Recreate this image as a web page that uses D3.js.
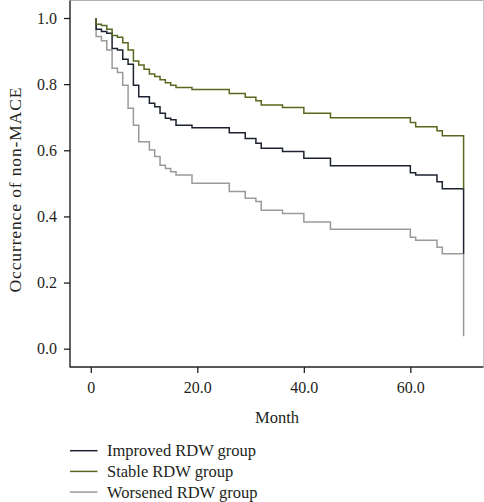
<!DOCTYPE html>
<html><head><meta charset="utf-8">
<script src="https://cdn.jsdelivr.net/npm/d3@7"></script>
<style>
html,body{margin:0;padding:0;background:#fff;}
svg{display:block;}
text{font-family:"Liberation Serif","Times New Roman",serif;fill:#231f20;}
</style></head>
<body>
<svg id="c" width="484" height="502"></svg>
<script>
// ---- data ----
const groups = ["Improved RDW group", "Stable RDW group", "Worsened RDW group"];
const colors = ["#1c2230", "#57691f", "#9a9a9a"];

const improvedTime  = [1, 1, 2, 3, 4, 5, 6, 7, 8, 9, 11, 12, 13, 14, 15, 16, 19, 26, 29, 31, 32, 36, 40, 45, 60, 61, 65, 66, 70];
const improvedValue = [1.0, 0.966, 0.959, 0.954, 0.908, 0.903, 0.875, 0.86, 0.797, 0.762, 0.742, 0.732, 0.712, 0.697, 0.692, 0.676, 0.668, 0.653, 0.636, 0.621, 0.606, 0.596, 0.576, 0.553, 0.532, 0.525, 0.505, 0.484, 0.287];

const stableTime  = [1, 1, 2, 3, 4, 5, 6, 7, 8, 9, 10, 11, 12, 13, 14, 15, 16, 19, 26, 29, 31, 32, 36, 40, 45, 60, 61, 65, 66, 70];
const stableValue = [1.0, 0.981, 0.977, 0.966, 0.947, 0.942, 0.925, 0.903, 0.870, 0.858, 0.845, 0.831, 0.823, 0.813, 0.804, 0.797, 0.790, 0.784, 0.772, 0.760, 0.750, 0.737, 0.729, 0.712, 0.698, 0.684, 0.671, 0.659, 0.644, 0.484];

const worsenedTime  = [1, 1, 2, 3, 4, 5, 6, 7, 8, 9, 11, 12, 13, 14, 15, 16, 19, 26, 29, 31, 32, 36, 40, 45, 60, 61, 65, 66, 70];
const worsenedValue = [1.0, 0.944, 0.931, 0.903, 0.848, 0.835, 0.797, 0.727, 0.676, 0.626, 0.601, 0.581, 0.555, 0.545, 0.535, 0.525, 0.500, 0.475, 0.455, 0.445, 0.419, 0.409, 0.383, 0.361, 0.337, 0.328, 0.307, 0.287, 0.038];

const xTicks = [0, 20, 40, 60];
const xTickLabels = ["0", "20.0", "40.0", "60.0"];
const yTicks = [0, 0.2, 0.4, 0.6, 0.8, 1.0];
const yTickLabels = ["0.0", "0.2", "0.4", "0.6", "0.8", "1.0"];
const xTitle = "Month";
const yTitle = "Occurrence of non-MACE";

// ---- drawing ----
const svg = d3.select("#c");
const frame = {left: 70, right: 483.5, top: 0.5, bottom: 367};
const x = d3.scaleLinear().domain([0, 70]).range([90.8, 463.6]);
const y = d3.scaleLinear().domain([0, 1]).range([348.7, 18]);

// frame
svg.append("line").attr("x1", frame.left).attr("x2", frame.right).attr("y1", frame.top).attr("y2", frame.top)
  .attr("stroke", "#b0b0b0").attr("stroke-width", 1);
svg.append("line").attr("x1", frame.right).attr("x2", frame.right).attr("y1", frame.top).attr("y2", frame.bottom)
  .attr("stroke", "#c8c8c8").attr("stroke-width", 1);

// axes
const xAxis = d3.axisBottom(x).tickValues(xTicks).tickFormat((d, i) => xTickLabels[i]).tickSize(6).tickSizeOuter(0);
const gx = svg.append("g").attr("transform", `translate(0,${frame.bottom})`).call(xAxis);
gx.select(".domain").remove();
gx.selectAll(".tick line").attr("stroke", "#231f20").attr("stroke-width", 1.3);
gx.selectAll(".tick text").attr("font-size", 16).attr("dy", "1.05em").attr("font-family", null);

const yAxis = d3.axisLeft(y).tickValues(yTicks).tickFormat((d, i) => yTickLabels[i]).tickSize(6).tickSizeOuter(0);
const gy = svg.append("g").attr("transform", `translate(${frame.left},0)`).call(yAxis);
gy.select(".domain").remove();
gy.selectAll(".tick line").attr("stroke", "#231f20").attr("stroke-width", 1.3);
gy.selectAll(".tick text").attr("font-size", 16).attr("x", -13).attr("font-family", null);

svg.append("line").attr("x1", frame.left).attr("x2", frame.left).attr("y1", frame.top).attr("y2", frame.bottom + 0.6)
  .attr("stroke", "#231f20").attr("stroke-width", 1.4);
svg.append("line").attr("x1", frame.left).attr("x2", frame.right).attr("y1", frame.bottom).attr("y2", frame.bottom)
  .attr("stroke", "#231f20").attr("stroke-width", 1.4);

// titles
svg.append("text").attr("x", 277).attr("y", 423).attr("text-anchor", "middle").attr("font-size", 16.5).text(xTitle);
svg.append("text").attr("transform", "translate(20.5,190) rotate(-90)").attr("text-anchor", "middle")
  .attr("font-size", 17.5).attr("textLength", 205).attr("lengthAdjust", "spacing").text(yTitle);

// curves
const series = [
  {name: groups[0], t: improvedTime, v: improvedValue, c: colors[0]},
  {name: groups[1], t: stableTime, v: stableValue, c: colors[1]},
  {name: groups[2], t: worsenedTime, v: worsenedValue, c: colors[2]}
];
const line = d3.line().x(d => x(d[0])).y(d => y(d[1])).curve(d3.curveStepAfter);
[2, 0, 1].forEach(i => {
  const s = series[i];
  const pts = s.t.map((t, k) => [t, s.v[k]]);
  svg.append("path").datum(pts).attr("d", line).attr("fill", "none")
    .attr("stroke", s.c).attr("stroke-width", 1.5);
});

// legend
const leg = svg.append("g");
series.forEach((s, i) => {
  const yy = 450.7 + i * 20.7;
  leg.append("line").attr("x1", 70).attr("x2", 97.5).attr("y1", yy).attr("y2", yy)
    .attr("stroke", s.c).attr("stroke-width", 1.5);
  leg.append("text").attr("x", 107).attr("y", yy + 5.5).attr("font-size", 16.5).text(s.name);
});
</script>
</body></html>
